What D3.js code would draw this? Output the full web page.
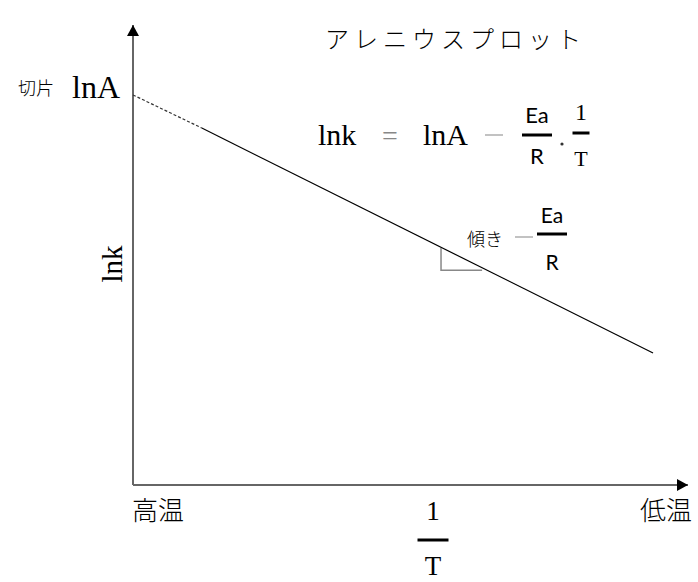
<!DOCTYPE html>
<html>
<head>
<meta charset="utf-8">
<script src="https://cdn.jsdelivr.net/npm/d3@7"></script>
<style>
  body { margin: 0; background: #fff; }
  svg { display: block; }
</style>
</head>
<body>
<div id="chart"></div>
<script>
// conceptual values (0-100 on both axes)
const dashedPart = [[0, 84.8], [12.4, 77.6]];
const solidPart = [[12.4, 77.6], [93.7, 28.7]];
const slopeTriangle = [[55.5, 51.5], [55.5, 46.7], [62.9, 46.7]];

const xTickLabels = [
  { x: 0, text: "高温", anchor: "start" },
  { x: 100, text: "低温", anchor: "end" }
];
const titleText = "アレニウスプロット";

const width = 698;
const height = 582;

const svg = d3.select("#chart")
  .append("svg")
  .attr("width", width)
  .attr("height", height);

const x = d3.scaleLinear().domain([0, 100]).range([133, 688]);
const y = d3.scaleLinear().domain([0, 100]).range([485, 25]);

const serif = "'Liberation Serif', 'DejaVu Serif', serif";
const sans = "Lato, 'Noto Sans', sans-serif";
const jp = "'Noto Sans CJK JP', sans-serif";

// arrow marker
const defs = svg.append("defs");
defs.append("marker")
  .attr("id", "arrow")
  .attr("markerUnits", "userSpaceOnUse")
  .attr("markerWidth", 12)
  .attr("markerHeight", 12)
  .attr("refX", 11)
  .attr("refY", 6)
  .attr("orient", "auto")
  .append("path")
  .attr("d", "M0,0L11,6L0,12Z")
  .attr("fill", "black");

// axes
svg.append("line")
  .attr("x1", x(0)).attr("y1", y(0))
  .attr("x2", x(0)).attr("y2", y(100))
  .attr("stroke", "#666").attr("stroke-width", 2)
  .attr("marker-end", "url(#arrow)");

svg.append("line")
  .attr("x1", x(0)).attr("y1", y(0))
  .attr("x2", x(100)).attr("y2", y(0))
  .attr("stroke", "#666").attr("stroke-width", 2)
  .attr("marker-end", "url(#arrow)");

const line = d3.line().x(d => x(d[0])).y(d => y(d[1]));

svg.append("path")
  .attr("d", line(dashedPart))
  .attr("fill", "none")
  .attr("stroke", "#333")
  .attr("stroke-width", 1.2)
  .attr("stroke-dasharray", "3,2");

svg.append("path")
  .attr("d", line(solidPart))
  .attr("fill", "none")
  .attr("stroke", "black")
  .attr("stroke-width", 1.2);

svg.append("path")
  .attr("d", line(slopeTriangle))
  .attr("fill", "none")
  .attr("stroke", "#888")
  .attr("stroke-width", 1.5);

// title
svg.append("text")
  .attr("x", 325).attr("y", 48)
  .attr("font-family", jp)
  .attr("font-weight", 300)
  .attr("font-size", 24)
  .attr("letter-spacing", 5)
  .text(titleText);

// y intercept label
svg.append("text")
  .attr("x", 18).attr("y", 95)
  .attr("font-family", jp)
  .attr("font-weight", 300)
  .attr("font-size", 18)
  .text("切片");
svg.append("text")
  .attr("x", 72).attr("y", 98)
  .attr("font-family", serif)
  .attr("font-size", 32)
  .text("lnA");

// y axis title
svg.append("text")
  .attr("transform", "translate(122,264) rotate(-90)")
  .attr("text-anchor", "middle")
  .attr("font-family", serif)
  .attr("font-size", 29)
  .text("lnk");

// x tick labels
svg.selectAll(".xlab")
  .data(xTickLabels)
  .enter()
  .append("text")
  .attr("class", "xlab")
  .attr("x", d => d.anchor === "start" ? x(d.x) - 1 : x(d.x) + 4)
  .attr("y", 520)
  .attr("text-anchor", d => d.anchor)
  .attr("font-family", jp)
  .attr("font-weight", 300)
  .attr("font-size", 26)
  .text(d => d.text);

// fraction helper
function fraction(cx, numY, barY, denY, num, den, barW, numFont, denFont, numSize, denSize) {
  svg.append("text")
    .attr("x", cx).attr("y", numY)
    .attr("text-anchor", "middle")
    .attr("font-family", numFont)
    .attr("font-size", numSize)
    .text(num);
  svg.append("line")
    .attr("x1", cx - barW / 2).attr("x2", cx + barW / 2)
    .attr("y1", barY).attr("y2", barY)
    .attr("stroke", "black").attr("stroke-width", 3);
  svg.append("text")
    .attr("x", cx).attr("y", denY)
    .attr("text-anchor", "middle")
    .attr("font-family", denFont)
    .attr("font-size", denSize)
    .text(den);
}

// x axis title 1/T
fraction(433, 520, 540, 575, "1", "T", 31, serif, serif, 27, 27);

// equation
svg.append("text")
  .attr("x", 318).attr("y", 145)
  .attr("font-family", serif)
  .attr("font-size", 30)
  .text("lnk");
svg.append("text")
  .attr("x", 390).attr("y", 145)
  .attr("text-anchor", "middle")
  .attr("font-family", serif)
  .attr("font-size", 28)
  .attr("fill", "#888")
  .text("=");
svg.append("text")
  .attr("x", 423).attr("y", 145)
  .attr("font-family", serif)
  .attr("font-size", 30)
  .text("lnA");
svg.append("line")
  .attr("x1", 485).attr("x2", 503)
  .attr("y1", 135).attr("y2", 135)
  .attr("stroke", "#999").attr("stroke-width", 1.2);
fraction(537, 123, 135, 164, "Ea", "R", 30, sans, sans, 22, 22);
svg.append("circle")
  .attr("cx", 562).attr("cy", 144).attr("r", 1.6)
  .attr("fill", "#333");
fraction(581, 120, 133, 166, "1", "T", 17, serif, serif, 24, 22);

// slope label
svg.append("text")
  .attr("x", 467).attr("y", 246)
  .attr("font-family", jp)
  .attr("font-weight", 300)
  .attr("font-size", 18)
  .text("傾き");
svg.append("line")
  .attr("x1", 515).attr("x2", 533)
  .attr("y1", 237).attr("y2", 237)
  .attr("stroke", "#999").attr("stroke-width", 1.2);
fraction(552, 223, 234, 270, "Ea", "R", 30, sans, sans, 21, 21);
</script>
</body>
</html>
